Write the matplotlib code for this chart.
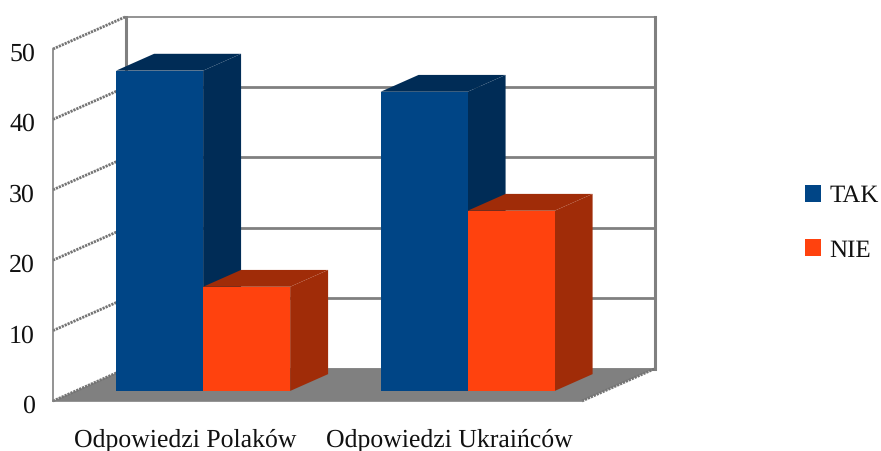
import matplotlib
matplotlib.use("Agg")
import matplotlib.pyplot as plt
from matplotlib.patches import Patch
from matplotlib.transforms import ScaledTranslation

plt.rcParams["font.family"] = ["Liberation Serif", "DejaVu Serif"]
plt.rcParams["text.hinting"] = "none"

categories = ["Odpowiedzi Polaków", "Odpowiedzi Ukraińców"]
tak_values = [45.5, 42.5]
nie_values = [14.8, 25.6]
y_ticks = [0, 10, 20, 30, 40, 50]

BLUE, BLUE_DARK = "#004586", "#002c56"
ORANGE, ORANGE_DARK = "#ff420e", "#a02c08"
GREY = "#808080"

# oblique projection: how far the back wall sits from the front plane, in data units
DEPTH_X = 0.276
DEPTH_Y = 4.6
BAR_D0, BAR_D1 = 0.31, 0.83
BAR_W = 0.329
SHIFT = -0.018


def proj(x, y, d):
    return x + d * DEPTH_X, y + d * DEPTH_Y


def quad(ax, pts, color, zorder):
    xs = [p[0] for p in pts]
    ys = [p[1] for p in pts]
    ax.fill(xs, ys, color=color, lw=0, zorder=zorder, clip_on=False)


def draw_bar(ax, x0, value, front, dark, zorder):
    x1 = x0 + BAR_W
    # top and side first, front face goes over them
    quad(ax, [proj(x0, value, BAR_D0), proj(x1, value, BAR_D0),
              proj(x1, value, BAR_D1), proj(x0, value, BAR_D1)], dark, zorder)
    quad(ax, [proj(x1, 0, BAR_D0), proj(x1, value, BAR_D0),
              proj(x1, value, BAR_D1), proj(x1, 0, BAR_D1)], dark, zorder)
    fx, fy = proj(x0 + BAR_W / 2, 0, BAR_D0)
    ax.bar(fx, value, width=BAR_W, bottom=fy, color=front,
           lw=0, zorder=zorder + 0.1, clip_on=False)


fig = plt.figure(figsize=(8.81, 4.51), dpi=100)
ax = fig.add_axes([53 / 881, (451 - 401) / 451, 529 / 881, 352 / 451])
ax.set_xlim(-0.5, 1.5)
ax.set_ylim(0, 50)

# floor
quad(ax, [proj(-0.5, 0, 0), proj(1.5, 0, 0), proj(1.5, 0, 1), proj(-0.5, 0, 1)], GREY, 1)

# back wall and left wall grid
for t in y_ticks:
    bx0, by0 = proj(-0.5, t, 1)
    bx1, by1 = proj(1.5, t, 1)
    ax.plot([bx0, bx1], [by0, by1], color=GREY, lw=1.2 if t == 50 else 2.0,
            zorder=2, clip_on=False)
    ax.plot([-0.5, bx0], [t, by0], color="#747474", lw=2.0, ls=(0, (0.8, 0.35)),
            zorder=2, clip_on=False)
for x_edge in [-0.5, 1.5]:
    ex, ey = proj(x_edge, 50, 1)
    ax.plot([ex, ex], [DEPTH_Y, ey], color=GREY, lw=2.2, zorder=2, clip_on=False)
ax.plot([1.5, proj(1.5, 0, 1)[0]], [0, DEPTH_Y], color="#747474", lw=2.0,
        ls=(0, (0.8, 0.35)), zorder=2, clip_on=False)

for i in range(len(categories)):
    left = i + SHIFT
    draw_bar(ax, left - BAR_W, tak_values[i], BLUE, BLUE_DARK, 3 + i * 2)
    draw_bar(ax, left, nie_values[i], ORANGE, ORANGE_DARK, 4 + i * 2)

for side in ["top", "right"]:
    ax.spines[side].set_visible(False)
for side in ["left", "bottom"]:
    ax.spines[side].set_color(GREY)
    ax.spines[side].set_linewidth(1.2)

ax.set_yticks(y_ticks)
ax.set_xticks(range(len(categories)))
ax.set_xticklabels(categories)
ax.tick_params(axis="y", length=0, pad=13, labelsize=18.6, labelcolor="#111111")
ax.tick_params(axis="x", length=0, pad=20, labelsize=18.5, labelcolor="#111111")

# y labels sit a little under their grid lines in the original
nudge = ScaledTranslation(0, -2 / 72, fig.dpi_scale_trans)
for lab in ax.get_yticklabels():
    lab.set_transform(lab.get_transform() + nudge)

handles = [Patch(color=BLUE, lw=0), Patch(color=ORANGE, lw=0)]
fig.legend(handles, ["TAK", "NIE"], loc="upper left",
           bbox_to_anchor=(795 / 881, 1 - 175 / 451), frameon=False,
           fontsize=18, handlelength=0.64, handleheight=0.64,
           handletextpad=0.33, labelspacing=1.26, labelcolor="#111111",
           borderaxespad=0)

fig.savefig("out.png", dpi=100)
